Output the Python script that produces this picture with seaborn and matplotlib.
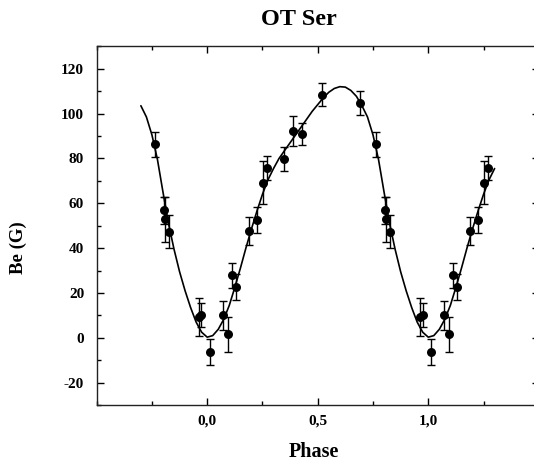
import numpy as np
import pandas as pd
import seaborn as sns
import matplotlib.pyplot as plt
from matplotlib.ticker import MultipleLocator, FuncFormatter

# ---- measured points (phase folded into [0, 1)) ----
phase = [0.764, 0.805, 0.810, 0.829, 0.963, 0.974, 0.012, 0.072, 0.095, 0.111,
         0.131, 0.188, 0.225, 0.251, 0.269, 0.348, 0.389, 0.428, 0.521, 0.691]
be = [86.3, 56.9, 52.9, 47.4, 9.2, 10.2, -6.4, 10.1, 1.5, 27.9,
      22.6, 47.7, 52.6, 69.2, 75.9, 79.7, 92.3, 91.0, 108.5, 104.7]
be_err = [5.6, 6.0, 10.0, 7.5, 8.5, 5.5, 5.9, 6.5, 8.0, 5.6,
          5.7, 6.2, 5.8, 9.7, 5.4, 5.3, 6.8, 5.0, 5.2, 5.2]

# ---- fitted curve ----
curve_phase = [0.000, 0.025, 0.050, 0.075, 0.100, 0.125, 0.150, 0.175, 0.200, 0.225,
               0.250, 0.275, 0.300, 0.325, 0.350, 0.375, 0.400, 0.425, 0.450, 0.475,
               0.500, 0.525, 0.550, 0.575, 0.600, 0.625, 0.650, 0.675, 0.700, 0.725,
               0.750, 0.775, 0.800, 0.825, 0.850, 0.875, 0.900, 0.925, 0.950, 0.975]
curve_be = [0.3, 1.0, 3.8, 8.3, 14.5, 22.5, 31.0, 40.0, 48.5, 56.5,
            64.0, 70.5, 75.5, 80.0, 83.5, 87.0, 90.5, 94.0, 97.5, 101.0,
            104.0, 107.0, 109.5, 111.2, 112.0, 111.8, 110.3, 107.7, 103.5, 98.5,
            90.5, 79.5, 65.0, 51.0, 39.5, 29.5, 21.0, 13.5, 7.0, 2.5]

PT_RANGE = (-0.25, 1.30)
CURVE_RANGE = (-0.30, 1.30)

# repeat the phased data over neighbouring cycles
pts = pd.DataFrame({"phase": phase, "be": be, "err": be_err})
pts = pd.concat([pts.assign(phase=pts["phase"] + k) for k in (-1, 0, 1)], ignore_index=True)
pts = pts[(pts["phase"] >= PT_RANGE[0]) & (pts["phase"] <= PT_RANGE[1])]

crv = pd.DataFrame({"phase": curve_phase, "be": curve_be})
crv = pd.concat([crv.assign(phase=crv["phase"] + k) for k in (-1, 0, 1, 2)], ignore_index=True)
crv = crv[(crv["phase"] >= CURVE_RANGE[0] - 1e-9) & (crv["phase"] <= CURVE_RANGE[1] + 1e-9)]
crv = crv.sort_values("phase")

sns.set_style("ticks")
plt.rcParams["font.family"] = ["Liberation Serif", "DejaVu Serif"]
plt.rcParams["font.weight"] = "bold"
plt.rcParams["axes.unicode_minus"] = False
plt.rcParams["text.color"] = "black"

fig = plt.figure(figsize=(5.34, 4.63), dpi=100)
ax = fig.add_axes([0.181, 0.125, 0.828, 0.775])

sns.lineplot(data=crv, x="phase", y="be", color="black", linewidth=1.2,
             sort=False, estimator=None, ax=ax)
ax.errorbar(pts["phase"], pts["be"], yerr=pts["err"], fmt="none",
            ecolor="black", elinewidth=1.0, capsize=3.2, capthick=1.0)
sns.scatterplot(data=pts, x="phase", y="be", color="black", s=42,
                edgecolor="black", linewidth=0, ax=ax, zorder=3)

ax.set_xlim(-0.5, 1.5)
ax.set_ylim(-30, 130)
ax.xaxis.set_major_locator(MultipleLocator(0.5))
ax.xaxis.set_minor_locator(MultipleLocator(0.25))
ax.yaxis.set_major_locator(MultipleLocator(20))
ax.yaxis.set_minor_locator(MultipleLocator(10))
ax.xaxis.set_major_formatter(FuncFormatter(lambda v, p: f"{v:.1f}".replace(".", ",")))
ax.set_xticks([0.0, 0.5, 1.0])
ax.set_yticks([-20, 0, 20, 40, 60, 80, 100, 120])

ax.tick_params(which="both", direction="in", top=True, right=True, width=1.0,
               labelsize=11, colors="black")
ax.tick_params(which="major", length=5)
ax.tick_params(which="minor", length=3)
ax.tick_params(axis="y", pad=9)
ax.tick_params(axis="x", pad=7)
for lab in ax.get_xticklabels() + ax.get_yticklabels():
    lab.set_fontweight("bold")
for sp in ax.spines.values():
    sp.set_linewidth(1.0)
    sp.set_color("#222222")

ax.set_xlabel("")
ax.set_ylabel("")
fig.text(0.588, 0.024, "Phase", ha="center", va="center", fontsize=14.5,
         fontweight="bold", color="black")
fig.text(0.034, 0.465, "Be (G)", ha="center", va="center", rotation=90,
         fontsize=13.5, fontweight="bold", color="black")
fig.text(0.56, 0.957, "OT Ser", ha="center", va="center", fontsize=17.5,
         fontweight="bold", color="black")

fig.savefig("out.png", dpi=100)
